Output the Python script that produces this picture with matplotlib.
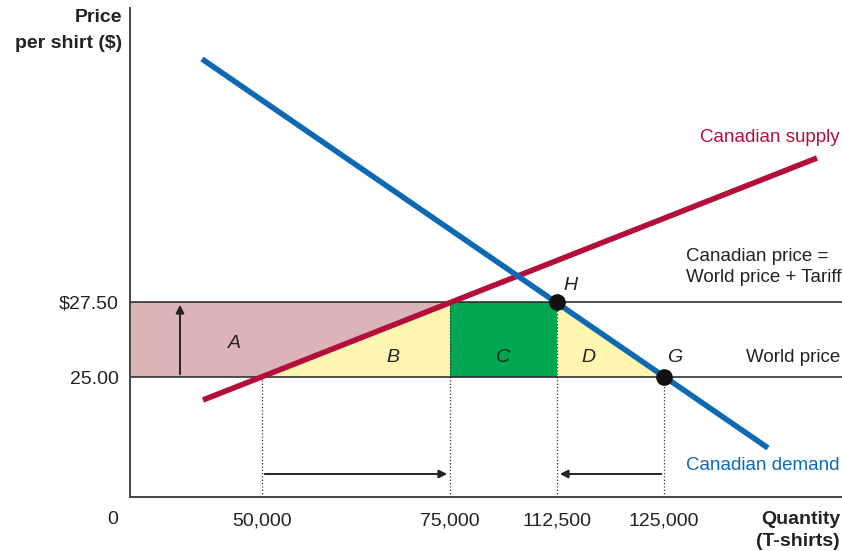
import numpy as np
import matplotlib.pyplot as plt
from matplotlib.patches import Polygon, FancyArrowPatch

plt.rcParams['font.family'] = ['Liberation Sans', 'DejaVu Sans']

# diagram is not to scale: quantities and prices sit at stylised axis positions
qty_labels = ['50,000', '75,000', '112,500', '125,000']
qty_pos = [132, 320, 427, 534]
price_labels = ['25.00', '$27.50']
price_pos = [120, 195]

supply_x = [73, 687]
supply_y = [97, 339]
demand_x = [72, 638]
demand_y = [438, 49]

area_labels = ['A', 'B', 'C', 'D']

RED = '#b30f3a'
BLUE = '#0d69b4'
PINK = '#dcb4b5'
YELLOW = '#fef6b0'
GREEN = '#00a651'


def line_x_at(xs, ys, y):
    return xs[0] + (y - ys[0]) * (xs[1] - xs[0]) / (ys[1] - ys[0])


fig = plt.figure(figsize=(8.42, 5.51), dpi=100)
ax = fig.add_axes([130 / 842, 54 / 551, 712 / 842, 489 / 551])
ax.set_xlim(0, 712)
ax.set_ylim(0, 489)

p_world, p_tariff = price_pos
q_s_world, q_s_tariff, q_d_tariff, q_d_world = qty_pos

# shaded areas
xs_world = line_x_at(supply_x, supply_y, p_world)
xs_tariff = line_x_at(supply_x, supply_y, p_tariff)
ax.add_patch(Polygon([(0, p_world), (xs_world, p_world), (xs_tariff, p_tariff), (0, p_tariff)],
                     closed=True, facecolor=PINK, edgecolor='none', zorder=1))
ax.add_patch(Polygon([(xs_world, p_world), (q_s_tariff, p_world), (q_s_tariff, p_tariff),
                      (xs_tariff, p_tariff)],
                     closed=True, facecolor=YELLOW, edgecolor='none', zorder=1))
ax.add_patch(Polygon([(q_s_tariff, p_world), (q_d_tariff, p_world), (q_d_tariff, p_tariff),
                      (q_s_tariff, p_tariff)],
                     closed=True, facecolor=GREEN, edgecolor='none', zorder=1))
ax.add_patch(Polygon([(q_d_tariff, p_world), (q_d_world, p_world), (q_d_tariff, p_tariff)],
                     closed=True, facecolor=YELLOW, edgecolor='none', zorder=1))

# price lines
for p in price_pos:
    ax.axhline(p, color='#222222', lw=1.1, zorder=2)

# dotted guides
ax.plot([q_s_world, q_s_world], [0, p_world], ls=':', color='#333333', lw=0.9, zorder=2)
ax.plot([q_s_tariff, q_s_tariff], [0, p_tariff], ls=':', color='#333333', lw=0.9, zorder=2)
ax.plot([q_d_tariff, q_d_tariff], [0, p_tariff], ls=':', color='#333333', lw=0.9, zorder=2)
ax.plot([q_d_world, q_d_world], [0, p_world], ls=':', color='#333333', lw=0.9, zorder=2)

# curves
ax.plot(supply_x, supply_y, color=RED, lw=4, solid_capstyle='butt', zorder=3)
ax.plot(demand_x, demand_y, color=BLUE, lw=4, solid_capstyle='butt', zorder=3)

# points H and G
ax.plot([q_d_tariff, q_d_world], [p_tariff, p_world], 'o', color='#111111', ms=11, zorder=4)
ax.text(q_d_tariff + 13, p_tariff + 17, 'H', fontsize=14, style='italic', ha='center', va='center', color='#222222')
ax.text(q_d_world + 11, p_world + 20, 'G', fontsize=14, style='italic', ha='center', va='center', color='#222222')

# area labels
lab_x = [104, 263, 373, 458]
lab_y = [154, 140, 140, 140]
for lab, x, y in zip(area_labels, lab_x, lab_y):
    ax.text(x, y, lab, fontsize=14, style='italic', ha='center', va='center', color='#222222', zorder=5)

# arrows
arrow_kw = dict(arrowstyle='-|>', mutation_scale=12, color='#222222', lw=1.4, zorder=5)
ax.add_patch(FancyArrowPatch((50, p_world), (50, p_tariff), **arrow_kw))
ax.add_patch(FancyArrowPatch((q_s_world, 23), (q_s_tariff, 23), **arrow_kw))
ax.add_patch(FancyArrowPatch((q_d_world, 23), (q_d_tariff, 23), **arrow_kw))

# curve / line labels
ax.text(710, 360, 'Canadian supply', color=RED, fontsize=13.5, ha='right', va='center')
ax.text(556, 230, 'Canadian price =\nWorld price + Tariff', color='#222222', fontsize=13.5,
        ha='left', va='center', linespacing=1.35)
ax.text(710, 139, 'World price', color='#222222', fontsize=13.5, ha='right', va='center')
ax.text(710, 32, 'Canadian demand', color=BLUE, fontsize=13.5, ha='right', va='center')

# axes
for s in ['top', 'right']:
    ax.spines[s].set_visible(False)
ax.spines['left'].set_color('#444444')
ax.spines['bottom'].set_color('#444444')
ax.spines['left'].set_linewidth(1.4)
ax.spines['bottom'].set_linewidth(1.4)

ax.set_xticks(qty_pos, qty_labels)
ax.set_yticks(price_pos, price_labels)
ax.tick_params(axis='both', length=0, labelsize=14, colors='#222222')
ax.tick_params(axis='x', pad=11)
ax.tick_params(axis='y', pad=8)

ax.text(-17, -22, '0', fontsize=14, ha='center', va='center', color='#222222')
ax.text(710, -22, 'Quantity', fontsize=14, fontweight='bold', ha='right', va='center', color='#222222')
ax.text(710, -44, '(T-shirts)', fontsize=14, fontweight='bold', ha='right', va='center', color='#222222')
fig.text(122 / 842, 1 - 18 / 551, 'Price', fontsize=14, fontweight='bold', ha='right', va='center', color='#222222')
fig.text(122 / 842, 1 - 44 / 551, 'per shirt ($)', fontsize=14, fontweight='bold', ha='right', va='center', color='#222222')

for t in ax.texts:
    t.set_clip_on(False)

fig.savefig('out.png', dpi=100)
